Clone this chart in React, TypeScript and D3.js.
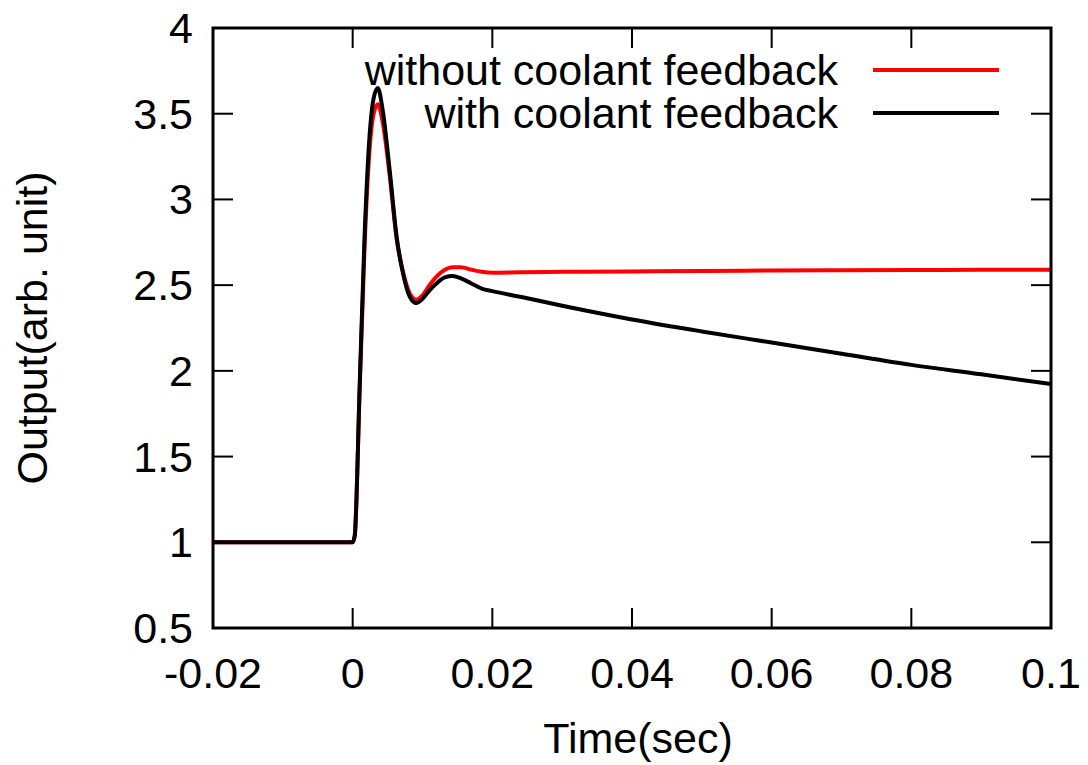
import React from "react";
import * as d3 from "d3";

const time = [-0.02, 0, 0.0003, 0.001, 0.0017, 0.0024, 0.003, 0.0036, 0.0043, 0.0053, 0.0063, 0.0072, 0.0082, 0.0091, 0.01, 0.011, 0.012, 0.0132, 0.0143, 0.0155, 0.017, 0.0185, 0.02, 0.024, 0.03, 0.04, 0.05, 0.06, 0.07, 0.08, 0.09, 0.1];
const withoutFeedback = [1, 1, 1.04, 1.88, 2.72, 3.28, 3.5, 3.555, 3.45, 3.14, 2.77, 2.58, 2.45, 2.415, 2.44, 2.5, 2.55, 2.59, 2.605, 2.605, 2.59, 2.578, 2.573, 2.575, 2.578, 2.58, 2.583, 2.585, 2.587, 2.588, 2.59, 2.59];
const withFeedback = [1, 1, 1.04, 1.91, 2.78, 3.36, 3.59, 3.65, 3.52, 3.17, 2.78, 2.57, 2.43, 2.395, 2.42, 2.47, 2.51, 2.545, 2.553, 2.54, 2.51, 2.48, 2.465, 2.432, 2.38, 2.3, 2.23, 2.165, 2.1, 2.035, 1.98, 1.923];
const xTicks = [-0.02, 0, 0.02, 0.04, 0.06, 0.08, 0.1];
const xTickLabels = ["-0.02", "0", "0.02", "0.04", "0.06", "0.08", "0.1"];
const yTicks = [0.5, 1, 1.5, 2, 2.5, 3, 3.5, 4];
const yTickLabels = ["0.5", "1", "1.5", "2", "2.5", "3", "3.5", "4"];
const seriesNames = ["without coolant feedback", "with coolant feedback"];
const seriesColors = ["#ff0000", "#000000"];

const W = 1088, H = 765;
const L = 213, R = 1051, T = 28, B = 628;
const FONT = "'Liberation Sans', Arial, Helvetica, sans-serif";

export default function App() {
  const x = d3.scaleLinear().domain([-0.02, 0.1]).range([L, R]);
  const y = d3.scaleLinear().domain([0.5, 4]).range([B, T]);
  const line = d3
    .line<number>()
    .x((_, i) => x(time[i]))
    .y((v) => y(v))
    .curve(d3.curveMonotoneX);
  const series = [withoutFeedback, withFeedback];
  const tickLen = 20;
  return (
    <svg width={W} height={H} style={{ position: "absolute", left: 0, top: 0, background: "#fff" }} fontFamily={FONT}>
      <rect x={0} y={0} width={W} height={H} fill="#fff" />
      {/* ticks */}
      {xTicks.map((t, i) => (
        <g key={"xt" + i}>
          <line x1={x(t)} x2={x(t)} y1={B} y2={B - tickLen} stroke="#000" strokeWidth={2} />
          <line x1={x(t)} x2={x(t)} y1={T} y2={T + tickLen} stroke="#000" strokeWidth={2} />
          <text x={x(t)} y={688} fontSize={43} textAnchor="middle" fill="#000">{xTickLabels[i]}</text>
        </g>
      ))}
      {yTicks.map((t, i) => (
        <g key={"yt" + i}>
          <line x1={L} x2={L + tickLen} y1={y(t)} y2={y(t)} stroke="#000" strokeWidth={2} />
          <line x1={R} x2={R - tickLen} y1={y(t)} y2={y(t)} stroke="#000" strokeWidth={2} />
          <text x={193} y={y(t) + 15} fontSize={43} textAnchor="end" fill="#000">{yTickLabels[i]}</text>
        </g>
      ))}
      {/* curves */}
      {series.map((s, i) => (
        <path key={"s" + i} d={line(s) || ""} fill="none" stroke={seriesColors[i]} strokeWidth={4} strokeLinejoin="round" />
      ))}
      {/* frame */}
      <rect x={L} y={T} width={R - L} height={B - T} fill="none" stroke="#000" strokeWidth={3} />
      {/* legend */}
      {seriesNames.map((n, i) => (
        <g key={"lg" + i}>
          <text x={838} y={70 + i * 43 + 15} fontSize={43} textAnchor="end" fill="#000">{n}</text>
          <line x1={873} x2={999} y1={70 + i * 43} y2={70 + i * 43} stroke={seriesColors[i]} strokeWidth={4} />
        </g>
      ))}
      {/* axis labels */}
      <text x={638} y={753} fontSize={43} textAnchor="middle" fill="#000">Time(sec)</text>
      <text transform={`translate(47,${(T + B) / 2}) rotate(-90)`} fontSize={43} textAnchor="middle" fill="#000">Output(arb. unit)</text>
    </svg>
  );
}
